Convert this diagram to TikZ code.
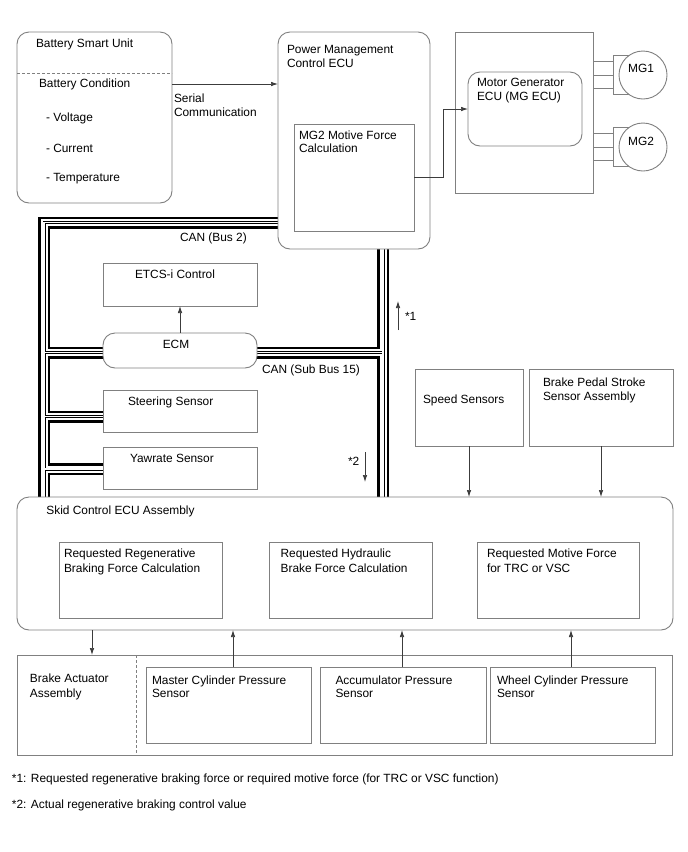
\documentclass[tikz,border=0pt]{standalone}
\usepackage{fontspec}
\setmainfont{Liberation Sans}
\usetikzlibrary{arrows.meta,backgrounds}
\definecolor{boxgray}{RGB}{128,128,128}
\definecolor{linegray}{RGB}{60,60,60}
\begin{document}
\begin{tikzpicture}[x=1pt,y=-1pt,
  box/.style={draw=boxgray,line width=0.9pt,fill=white,inner sep=0pt,outer sep=0pt},
  rbox/.style={box,rounded corners=12pt},
  txt/.style={inner sep=0pt,outer sep=0pt,anchor=base west,font=\fontsize{11.9}{14.3}\selectfont},
  ctxt/.style={txt,anchor=base},
  arr/.style={draw=linegray,line width=0.7pt,-{Latex[length=7pt,width=4.5pt]}},
  wire/.style={draw=boxgray,line width=0.9pt}]
\useasboundingbox (0,0) rectangle (688,852);

% ---------- boxes ----------
\node[rbox,minimum width=155pt,minimum height=171pt] (bsu) at (94.5,117.5) {};
\node[rbox,minimum width=152pt,minimum height=217pt] (pm) at (354,140.5) {};
\node[box,minimum width=120pt,minimum height=107pt] (mg2c) at (354,177.5) {};
\node[box,minimum width=138pt,minimum height=161pt] (mgo) at (524,112.5) {};
\node[rbox,minimum width=114pt,minimum height=74pt] (mgecu) at (525,109) {};

\node[box,minimum width=154pt,minimum height=43pt] (etcs) at (180,284.5) {};
\node[rbox,minimum width=154pt,minimum height=35pt] (ecm) at (180,350.5) {};
\node[box,minimum width=154pt,minimum height=42pt] (steer) at (180,411) {};
\node[box,minimum width=154pt,minimum height=42pt] (yaw) at (180,468) {};

\node[box,minimum width=108pt,minimum height=77pt] (speed) at (469,407.5) {};
\node[box,minimum width=144pt,minimum height=77pt] (bpedal) at (601,407.5) {};

\node[rbox,minimum width=656pt,minimum height=133pt] (skid) at (345,563.5) {};
\node[box,minimum width=163pt,minimum height=76pt] (rr) at (141,580.5) {};
\node[box,minimum width=163pt,minimum height=76pt] (rh) at (350.7,580.5) {};
\node[box,minimum width=162pt,minimum height=76pt] (rm) at (558,580.5) {};

\node[box,minimum width=655.5pt,minimum height=100pt] (bact) at (344.75,705) {};
\node[box,minimum width=164.8pt,minimum height=76pt] (mc) at (229,705.3) {};
\node[box,minimum width=166pt,minimum height=76pt] (acc) at (403.2,705.3) {};
\node[box,minimum width=164.4pt,minimum height=76pt] (wc) at (572.8,705.3) {};

% helper coordinates
\coordinate (tl) at (44,222.5);
\coordinate (rb) at (383,0);
\coordinate (ecmb) at (0,352.5);
\coordinate (stb) at (0,416.5);
\coordinate (yab) at (0,469);
\coordinate (ys) at (0,84);
\coordinate (yg1) at (0,177);
\coordinate (yg2) at (0,109);
\coordinate (xg) at (443,0);
\coordinate (xd) at (136.5,0);
\coordinate (xa0) at (92,0);
\coordinate (xa1) at (233,0);
\coordinate (xa2) at (402,0);
\coordinate (xa3) at (571,0);
\coordinate (s1a) at (398,330);
\coordinate (s1b) at (398,301);
\coordinate (s2a) at (365,452);
\coordinate (s2b) at (365,482);
\coordinate (xm) at (613,0);

% ---------- CAN bus bands ----------
\newcommand\canlayer[1]{%
  \draw[#1,line join=miter] (pm.west |- tl) -- (tl) -- (tl |- skid.north)
    (rb |- pm.south) -- (rb |- skid.north)
    (tl |- ecmb) -- (ecm.west |- ecmb)
    (ecm.east |- ecmb) -- (rb |- ecmb)
    (tl |- stb) -- (steer.west |- stb)
    (tl |- yab) -- (yaw.west |- yab);}
\begin{scope}[on background layer]
  \fill[white] (0,0) rectangle (688,852);
  \canlayer{black,line width=12pt}
  \canlayer{white,line width=7pt}
  \canlayer{black,line width=3pt}
  \canlayer{white,line width=1.6pt}
  % MG stubs
  \draw[wire] (mgo.east |- 0,61) -- (xm |- 0,61) (mgo.east |- 0,75) -- (xm |- 0,75) (mgo.east |- 0,88) -- (xm |- 0,88);
  \draw[wire] (xm |- 0,55) -- (xm |- 0,94) (xm |- 0,55) -- (643,55) (xm |- 0,94) -- (643,94);
  \draw[wire] (mgo.east |- 0,133) -- (xm |- 0,133) (mgo.east |- 0,147) -- (xm |- 0,147) (mgo.east |- 0,160) -- (xm |- 0,160);
  \draw[wire] (xm |- 0,127) -- (xm |- 0,166) (xm |- 0,127) -- (643,127) (xm |- 0,166) -- (643,166);
\end{scope}

\node[circle,draw=boxgray,line width=0.9pt,fill=white,minimum size=48pt,inner sep=0pt] (mg1) at (643,75) {};
\node[circle,draw=boxgray,line width=0.9pt,fill=white,minimum size=48pt,inner sep=0pt] (mg2) at (643,147) {};

% dashed separators
\draw[boxgray,line width=0.8pt,dash pattern=on 3pt off 2pt] (bsu.west |- 0,73) -- (bsu.east |- 0,73);
\draw[boxgray,line width=0.8pt,dash pattern=on 3pt off 2pt] (xd |- bact.north) -- (xd |- bact.south);

% ---------- arrows ----------
\draw[arr] (bsu.east |- ys) -- (pm.west |- ys);
\draw[arr] (mg2c.east |- yg1) -- (xg |- yg1) -- (xg |- yg2) -- (mgecu.west |- yg2);
\draw[arr] (ecm.north) -- (etcs.south);
\draw[arr] (s1a) -- (s1b);
\draw[arr] (s2a) -- (s2b);
\draw[arr] (speed.south) -- (speed.south |- skid.north);
\draw[arr] (bpedal.south) -- (bpedal.south |- skid.north);
\draw[arr] (xa0 |- skid.south) -- (xa0 |- bact.north);
\draw[arr] (xa1 |- mc.north) -- (xa1 |- skid.south);
\draw[arr] (xa2 |- acc.north) -- (xa2 |- skid.south);
\draw[arr] (xa3 |- wc.north) -- (xa3 |- skid.south);

% ---------- texts ----------
\node[txt] (t1) at (36,47) {Battery Smart Unit};
\node[txt] (t2) at (39,87) {Battery Condition};
\node[txt] (t3) at (46,121) {- Voltage};
\node[txt] (t4) at (46,152) {- Current};
\node[txt] (t5) at (46,181) {- Temperature};
\node[txt] (t6) at (174,102) {Serial};
\node[txt] (t7) at (174,116) {Communication};
\node[txt] (t8) at (287,53) {Power Management};
\node[txt] (t9) at (287,67) {Control ECU};
\node[txt] (t10) at (299,139) {MG2 Motive Force};
\node[txt] (t11) at (299,152) {Calculation};
\node[txt] (t12) at (477,86) {Motor Generator};
\node[txt] (t13) at (477,100) {ECU (MG ECU)};
\node[ctxt] (t14) at (641,72) {MG1};
\node[ctxt] (t15) at (641,145) {MG2};
\node[txt] (t16) at (180,241) {CAN (Bus 2)};
\node[txt] (t17) at (135,278) {ETCS-i Control};
\node[ctxt] (t18) at (176,348) {ECM};
\node[txt] (t19) at (262,373) {CAN (Sub Bus 15)};
\node[txt] (t20) at (128,405) {Steering Sensor};
\node[txt] (t21) at (130,462) {Yawrate Sensor};
\node[txt] (t22) at (405,320) {*1};
\node[txt] (t23) at (348,465) {*2};
\node[txt] (t24) at (423,403) {Speed Sensors};
\node[txt] (t25) at (543,386) {Brake Pedal Stroke};
\node[txt] (t26) at (543,400) {Sensor Assembly};
\node[txt] (t27) at (46.4,514) {Skid Control ECU Assembly};
\node[txt] (t28) at (64,557.5) {Requested Regenerative};
\node[txt] (t29) at (64,572) {Braking Force Calculation};
\node[txt] (t30) at (280.6,557.5) {Requested Hydraulic};
\node[txt] (t31) at (280.6,572) {Brake Force Calculation};
\node[txt] (t32) at (487,557.5) {Requested Motive Force};
\node[txt] (t33) at (487,572) {for TRC or VSC};
\node[txt] (t34) at (30,682) {Brake Actuator};
\node[txt] (t35) at (30,697) {Assembly};
\node[txt] (t36) at (152,684) {Master Cylinder Pressure};
\node[txt] (t37) at (152,697.5) {Sensor};
\node[txt] (t38) at (335.5,684) {Accumulator Pressure};
\node[txt] (t39) at (335.5,697.5) {Sensor};
\node[txt] (t40) at (497,684) {Wheel Cylinder Pressure};
\node[txt] (t41) at (497,697.5) {Sensor};
\node[txt] (t42) at (12,782) {*1: Requested regenerative braking force or required motive force (for TRC or VSC function)};
\node[txt] (t43) at (12,808) {*2: Actual regenerative braking control value};
\end{tikzpicture}
\end{document}
